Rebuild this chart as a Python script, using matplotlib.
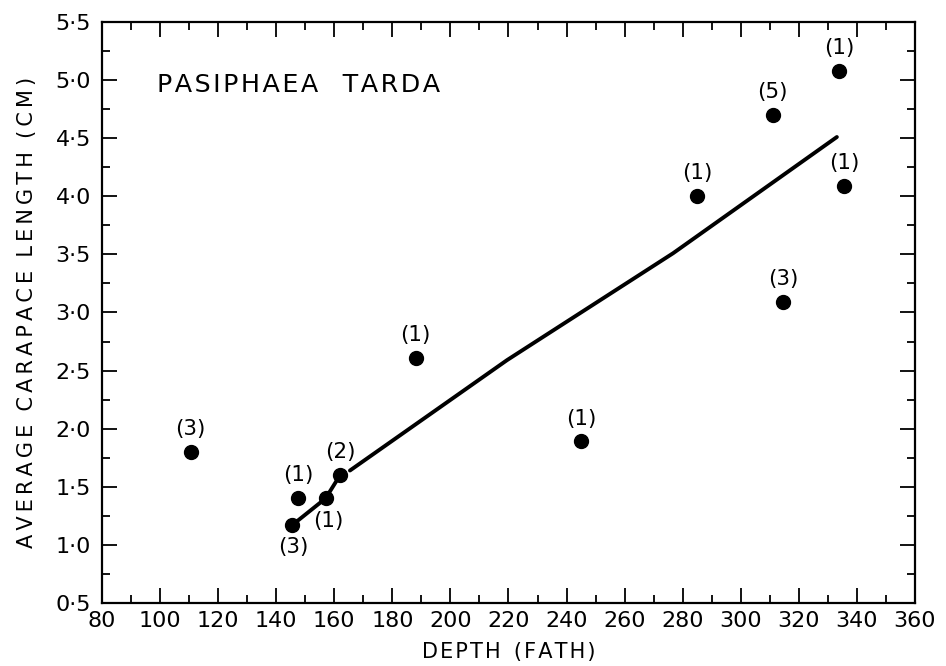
import matplotlib
matplotlib.use("Agg")
import matplotlib.pyplot as plt
from matplotlib.ticker import MultipleLocator, FuncFormatter

# samples: depth (fathoms), mean carapace length (cm), number of specimens
depth = [110.5, 147.5, 145.5, 157, 162, 188, 245, 285, 311, 314.5, 334, 335.5]
length = [1.80, 1.40, 1.17, 1.40, 1.60, 2.61, 1.89, 4.00, 4.70, 3.09, 5.08, 4.09]
counts = ["(3)", "(1)", "(3)", "(1)", "(2)", "(1)", "(1)", "(1)", "(5)", "(3)", "(1)", "(1)"]

# hand-drawn trend line, two pieces
fit1_x = [145.5, 157, 162]
fit1_y = [1.17, 1.40, 1.60]
fit2_x = [165.4, 219.5, 276.7, 311.1, 333.1]
fit2_y = [1.64, 2.59, 3.51, 4.12, 4.51]

x_ticks = list(range(80, 361, 20))
y_ticks = [0.5, 1.0, 1.5, 2.0, 2.5, 3.0, 3.5, 4.0, 4.5, 5.0, 5.5]


def spaced(s, gap="\u200a"):
    # wide lettering like the original stencil text
    return gap.join(s)


plt.rcParams["font.family"] = "DejaVu Sans"

fig = plt.figure(figsize=(9.46, 6.66), dpi=100)
ax = fig.add_axes([0.1078, 0.0946, 0.8594, 0.8724])

ax.plot(fit1_x, fit1_y, color="black", lw=2.8, solid_capstyle="round")
ax.plot(fit2_x, fit2_y, color="black", lw=2.8, solid_capstyle="round")
ax.plot(depth, length, "o", color="black", ms=10, zorder=3)

# count labels: above the dot unless noted
for i, (x, y, c) in enumerate(zip(depth, length, counts)):
    if i == 2:
        off = (1, -16)
    elif i == 3:
        off = (2, -16)
    else:
        off = (0, 16.5)
    ax.annotate(c, (x, y), xytext=off, textcoords="offset points",
                ha="center", va="center", fontsize=15.5)

ax.text(0.068, 0.891, spaced("PASIPHAEA") + "   " + spaced("TARDA"),
        transform=ax.transAxes, fontsize=18.3, va="center", ha="left")

ax.set_xlim(80, 360)
ax.set_ylim(0.5, 5.5)
ax.set_xticks(x_ticks)
ax.set_yticks(y_ticks)
ax.xaxis.set_minor_locator(MultipleLocator(10))
ax.yaxis.set_minor_locator(MultipleLocator(0.25))
ax.yaxis.set_major_formatter(FuncFormatter(lambda v, p: f"{v:.1f}".replace(".", "·")))

ax.tick_params(which="both", direction="in", top=True, right=True,
               width=1.3, labelsize=16, color="black")
ax.tick_params(which="major", length=11)
ax.tick_params(which="minor", length=6)
ax.tick_params(axis="x", pad=6)
ax.tick_params(axis="y", pad=8)

for s in ax.spines.values():
    s.set_linewidth(1.6)

ax.set_xlabel(spaced("DEPTH") + "  " + spaced("(FATH)"), fontsize=15, labelpad=8)
ax.set_ylabel("  ".join(spaced(w, "\u2009") for w in ["AVERAGE", "CARAPACE", "LENGTH", "(CM)"]),
              fontsize=15, labelpad=13)

fig.savefig("out.png", dpi=100)
